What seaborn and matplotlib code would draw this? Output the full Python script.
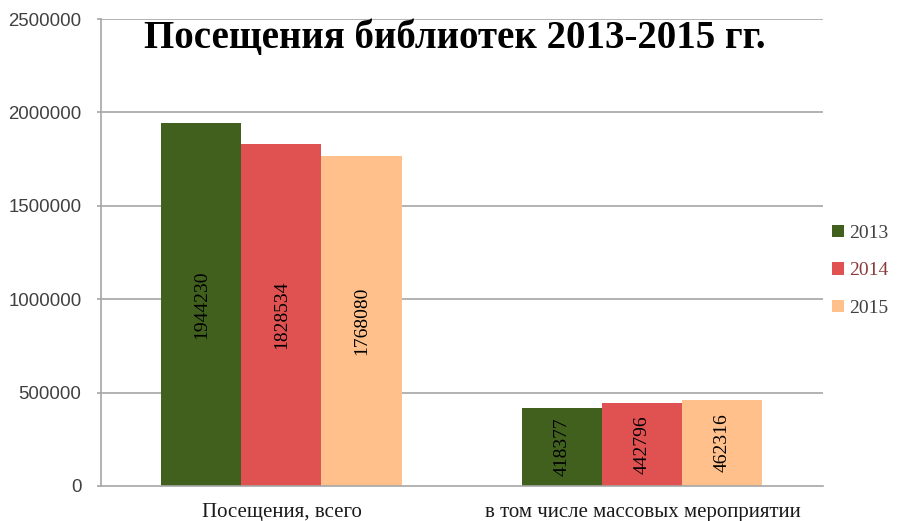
import matplotlib
matplotlib.use("Agg")
import matplotlib.pyplot as plt
import seaborn as sns
import pandas as pd
from matplotlib.patches import Patch

categories = ["Посещения, всего", "в том числе массовых мероприятии"]
years = ["2013", "2014", "2015"]
values_2013 = [1944230, 418377]
values_2014 = [1828534, 442796]
values_2015 = [1768080, 462316]
yticks = [0, 500000, 1000000, 1500000, 2000000, 2500000]
title = "Посещения библиотек 2013-2015 гг."

colors = ["#42601D", "#E05252", "#FFC08C"]

rows = []
for yr, vals in zip(years, [values_2013, values_2014, values_2015]):
    for c, v in zip(categories, vals):
        rows.append({"cat": c, "year": yr, "val": v})
df = pd.DataFrame(rows)

sns.set_style("white")
plt.rcParams['font.family'] = ['Liberation Serif', 'DejaVu Serif']

fig = plt.figure(figsize=(9, 5.21), dpi=100)
ax = fig.add_axes([0.1122, 0.0672, 0.8022, 0.8963])

sns.barplot(data=df, x="cat", y="val", hue="year", order=categories,
            hue_order=years, palette=colors, width=0.665, gap=0,
            saturation=1, ax=ax, legend=False, errorbar=None, linewidth=0)

ax.set_ylim(0, 2500000)
ax.set_xlim(-0.5, 1.5)
ax.set_yticks(yticks)
ax.set_yticklabels([str(t) for t in yticks], family="Liberation Sans",
                   fontsize=13.4, color="#404040")
for t in yticks[1:]:
    ax.axhline(t, color="#A6A6A6", lw=1.2, zorder=0)

ax.set_xticks([0, 1])
ax.set_xticklabels(categories, fontsize=15, color="#1a1a1a")
ax.set_xticks([-0.5, 0.5, 1.5], minor=True)
ax.tick_params(axis="x", which="major", length=0, pad=12)
ax.tick_params(axis="x", which="minor", length=5, color="#A6A6A6", width=1.2)
ax.tick_params(axis="y", length=3, color="#A6A6A6", width=1.2, left=True, pad=11)
ax.set_xlabel("")
ax.set_ylabel("")

for s in ["top", "right"]:
    ax.spines[s].set_visible(False)
for s in ["left", "bottom"]:
    ax.spines[s].set_color("#A6A6A6")
    ax.spines[s].set_linewidth(1.2)

for cont in ax.containers:
    for bar in cont:
        h = bar.get_height()
        ax.text(bar.get_x() + bar.get_width() / 2, h / 2, f"{int(h)}",
                rotation=90, ha="center", va="center", fontsize=14,
                color="black")

fig.text(0.505, 0.927, title, ha="center", va="center", fontsize=28,
         fontweight="bold", color="black")

handles = [Patch(facecolor=c, edgecolor="none") for c in colors]
leg = fig.legend(handles, years, loc="center left",
                 bbox_to_anchor=(0.905, 0.48), frameon=False, fontsize=14,
                 handlelength=0.6, handleheight=0.6, labelspacing=1.05,
                 handletextpad=0.3)
for txt, col in zip(leg.get_texts(), ["#404040", "#8B3A3A", "#404040"]):
    txt.set_color(col)

fig.savefig("out.png", dpi=100)
